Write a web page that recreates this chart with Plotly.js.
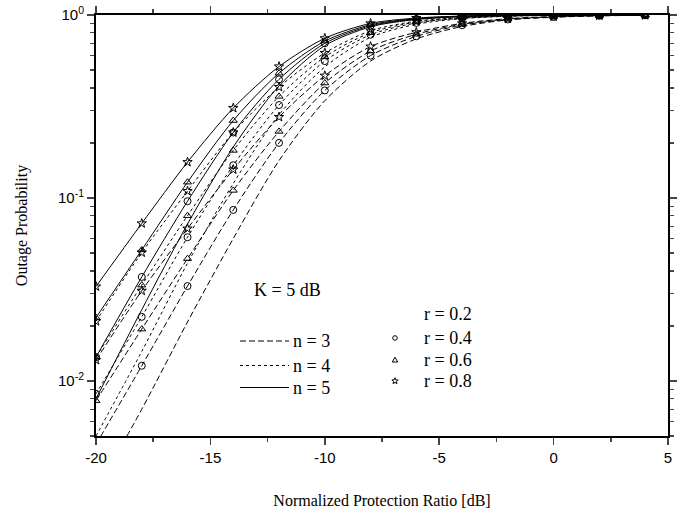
<!DOCTYPE html>
<html>
<head>
<meta charset="utf-8">
<script src="https://cdn.plot.ly/plotly-3.0.1.min.js"></script>
<style>html,body{margin:0;padding:0;background:#fff;}#chart{width:697px;height:517px;}</style>
</head>
<body>
<div id="chart"></div>
<script>
// Normalized protection ratio [dB]
const xDb = [-20, -18, -16, -14, -12, -10, -8, -6, -4, -2, 0, 2, 4];

// n = 5 (solid)
const n5_r02 = [0.0080, 0.0245, 0.072, 0.190, 0.410, 0.680, 0.862, 0.945, 0.980, 0.993, 0.998, 0.9995, 1.0];
const n5_r04 = [0.0135, 0.0370, 0.096, 0.228, 0.445, 0.700, 0.873, 0.950, 0.982, 0.994, 0.998, 0.9995, 1.0];
const n5_r06 = [0.0222, 0.0520, 0.122, 0.265, 0.481, 0.720, 0.885, 0.955, 0.984, 0.995, 0.998, 0.9995, 1.0];
const n5_r08 = [0.0328, 0.0726, 0.157, 0.310, 0.523, 0.746, 0.900, 0.962, 0.987, 0.996, 0.999, 1.0, 1.0];

// n = 4 (dotted)
const n4_r02 = [0.0050, 0.0145, 0.044, 0.120, 0.285, 0.520, 0.755, 0.890, 0.955, 0.984, 0.995, 0.998, 1.0];
const n4_r04 = [0.0085, 0.0224, 0.061, 0.151, 0.322, 0.560, 0.780, 0.905, 0.960, 0.986, 0.995, 0.999, 1.0];
const n4_r06 = [0.0135, 0.0334, 0.080, 0.182, 0.359, 0.590, 0.800, 0.915, 0.965, 0.988, 0.996, 0.999, 1.0];
const n4_r08 = [0.0212, 0.0503, 0.109, 0.228, 0.404, 0.620, 0.820, 0.925, 0.970, 0.990, 0.997, 0.999, 1.0];

// n = 3 (dashed)
const n3_r02 = [0.0025, 0.0070, 0.021, 0.060, 0.160, 0.340, 0.560, 0.740, 0.865, 0.940, 0.972, 0.990, 0.996];
const n3_r04 = [0.0045, 0.0121, 0.033, 0.086, 0.200, 0.387, 0.600, 0.765, 0.880, 0.945, 0.975, 0.990, 0.997];
const n3_r06 = [0.0078, 0.0192, 0.0466, 0.110, 0.231, 0.425, 0.635, 0.785, 0.890, 0.950, 0.978, 0.992, 0.997];
const n3_r08 = [0.0130, 0.0311, 0.068, 0.143, 0.277, 0.466, 0.672, 0.805, 0.900, 0.955, 0.980, 0.993, 0.998];

const nLabels = ['n = 3', 'n = 4', 'n = 5'];
const rLabels = ['r = 0.2', 'r = 0.4', 'r = 0.6', 'r = 0.8'];
const yTickVals = [1, 0.1, 0.01];
const yTickText = ['10<sup>0</sup>', '10<sup>-1</sup>', '10<sup>-2</sup>'];
const xTickVals = [-20, -15, -10, -5, 0, 5];
const xTickText = ['-20', '-15', '-10', '-5', '0', '5'];

const dashes = ['6px,3px', 'dot', 'solid'];
const symbols = [null, 'circle-open', 'triangle-up-open', 'star-open'];
const seriesByN = [
  [n3_r02, n3_r04, n3_r06, n3_r08],
  [n4_r02, n4_r04, n4_r06, n4_r08],
  [n5_r02, n5_r04, n5_r06, n5_r08]
];

const traces = [];
seriesByN.forEach((group, ni) => {
  group.forEach((ys, ri) => {
    const t = {
      x: xDb, y: ys, type: 'scatter', name: nLabels[ni] + ', ' + rLabels[ri],
      mode: symbols[ri] ? 'lines+markers' : 'lines',
      line: {color: '#000', width: 1, dash: dashes[ni], shape: 'spline', smoothing: 0.8},
      showlegend: false, hoverinfo: 'skip'
    };
    if (symbols[ri]) t.marker = {symbol: symbols[ri], size: 7, color: '#000', line: {color: '#000', width: 1}};
    traces.push(t);
  });
});

const minorY = [];
[0.001, 0.01, 0.1].forEach(d => { for (let k = 2; k <= 9; k++) minorY.push(+(k * d).toPrecision(3)); });

// legend key (drawn as paper-anchored shapes + annotations)
const SERIF = 'Liberation Serif, Times New Roman, serif';
const PW = 572, PH = 421, PL = 96, PT = 15;
const px = v => (v - PL) / PW;          // page px -> paper x
const py = v => (PT + PH - v) / PH;     // page px -> paper y
const nRowY = [341, 365.5, 387.5];
const rRowY = [314, 338, 360, 381];
const shapes = [];
const annotations = [{
  text: 'K = 5 dB', xref: 'paper', yref: 'paper', x: px(252), y: py(290), xanchor: 'left', yanchor: 'middle',
  showarrow: false, font: {family: SERIF, size: 18, color: '#000'}
}];
nLabels.forEach((lab, i) => {
  shapes.push({type: 'line', xref: 'paper', yref: 'paper', x0: px(240), x1: px(289), y0: py(nRowY[i]), y1: py(nRowY[i]),
    line: {color: '#000', width: 1, dash: dashes[i]}});
  annotations.push({text: lab, xref: 'paper', yref: 'paper', x: px(291), y: py(nRowY[i]), xanchor: 'left', yanchor: 'middle',
    showarrow: false, font: {family: SERIF, size: 18, color: '#000'}});
});
rLabels.forEach((lab, i) => {
  annotations.push({text: lab, xref: 'paper', yref: 'paper', x: px(422), y: py(rRowY[i]), xanchor: 'left', yanchor: 'middle',
    showarrow: false, font: {family: SERIF, size: 18, color: '#000'}});
});
const mx = px(395);
shapes.push({type: 'circle', xref: 'paper', yref: 'paper', xsizemode: 'pixel', ysizemode: 'pixel',
  xanchor: mx, yanchor: py(rRowY[1]), x0: -2.3, x1: 2.3, y0: -2.3, y1: 2.3, line: {color: '#000', width: 1}});
shapes.push({type: 'path', xref: 'paper', yref: 'paper', xsizemode: 'pixel', ysizemode: 'pixel',
  xanchor: mx, yanchor: py(rRowY[2]), path: 'M-2.7,-2 L2.7,-2 L0,2.8 Z', line: {color: '#000', width: 1}});
(function () {
  const pts = [];
  for (let k = 0; k < 10; k++) {
    const a = Math.PI / 2 + k * Math.PI / 5, rad = (k % 2 === 0) ? 3.3 : 1.4;
    pts.push((rad * Math.cos(a)).toFixed(2) + ',' + (rad * Math.sin(a)).toFixed(2));
  }
  shapes.push({type: 'path', xref: 'paper', yref: 'paper', xsizemode: 'pixel', ysizemode: 'pixel',
    xanchor: mx, yanchor: py(rRowY[3]), path: 'M' + pts.join(' L') + ' Z', line: {color: '#000', width: 1}});
})();

const layout = {
  width: 697, height: 517,
  margin: {l: 96, r: 29, t: 15, b: 81},
  paper_bgcolor: '#fff', plot_bgcolor: '#fff',
  showlegend: false,
  font: {family: SERIF, color: '#000'},
  xaxis: {
    range: [-20, 5], tickvals: xTickVals, ticktext: xTickText, ticks: 'outside', ticklen: 7, tickwidth: 1.5,
    tickfont: {family: 'Liberation Sans, Arial, sans-serif', size: 15, color: '#000'},
    minor: {dtick: 2.5, ticks: 'outside', ticklen: 4, tickwidth: 1.5, showgrid: false},
    showline: true, linecolor: '#000', linewidth: 2, mirror: 'allticks',
    showgrid: false, zeroline: false,
    title: {text: 'Normalized Protection Ratio [dB]', font: {size: 16, family: SERIF}, standoff: 30}
  },
  yaxis: {
    type: 'log', range: [Math.log10(0.005), 0],
    tickvals: yTickVals, ticktext: yTickText, ticks: 'outside', ticklen: 7, tickwidth: 1.5,
    tickfont: {family: 'Liberation Sans, Arial, sans-serif', size: 15, color: '#000'},
    minor: {tickvals: minorY, ticks: 'outside', ticklen: 4, tickwidth: 1.5, showgrid: false},
    showline: true, linecolor: '#000', linewidth: 2, mirror: 'allticks',
    showgrid: false, zeroline: false,
    title: {text: 'Outage Probability', font: {size: 16, family: SERIF}, standoff: 26}
  },
  shapes: shapes,
  annotations: annotations
};

Plotly.newPlot('chart', traces, layout, {displayModeBar: false, staticPlot: true});
</script>
</body>
</html>
